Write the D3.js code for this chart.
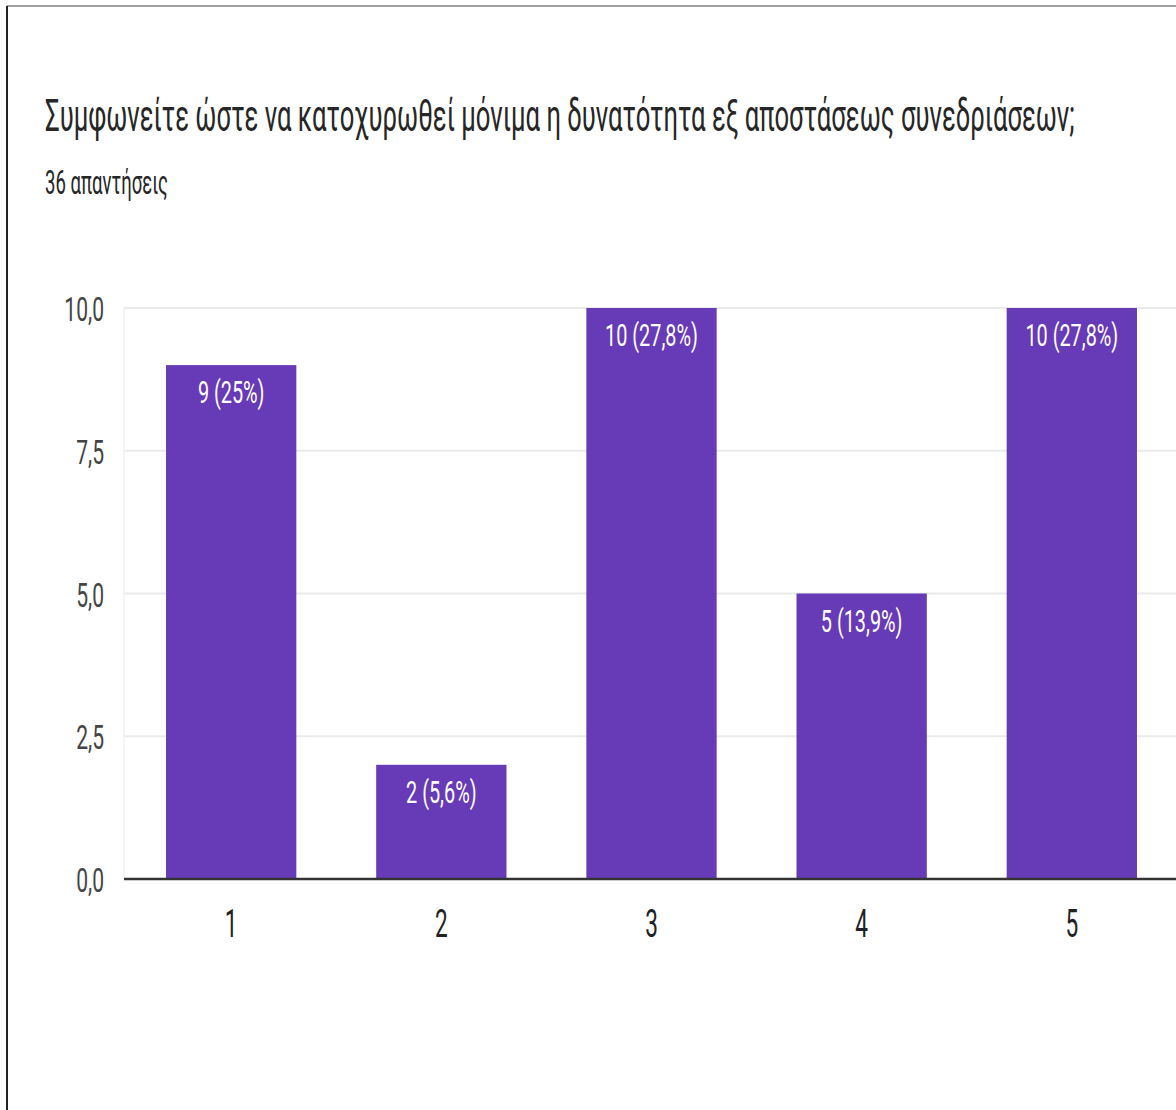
<!DOCTYPE html>
<html>
<head>
<meta charset="utf-8">
<script src="https://cdn.jsdelivr.net/npm/d3@7"></script>
<style>
  html, body { margin: 0; padding: 0; background: #fff; }
  svg { display: block; }
  text { font-family: Roboto, "Noto Sans", sans-serif; }
</style>
</head>
<body>
<svg id="chart" width="1176" height="1110"></svg>
<script>
// Survey question and response counts
const title = "Συμφωνείτε ώστε να κατοχυρωθεί μόνιμα η δυνατότητα εξ αποστάσεως συνεδριάσεων;";
const subtitle = "36 απαντήσεις";
const categories = ["1", "2", "3", "4", "5"];
const counts = [9, 2, 10, 5, 10];
const percents = ["25%", "5,6%", "27,8%", "13,9%", "27,8%"];
const yTicks = [0, 2.5, 5, 7.5, 10];

const W = 1176, H = 1110;
const sx = 0.62; // narrow lettering: horizontal squeeze applied to the labels
const margin = { top: 308, left: 124, bottom: 879 };

const svg = d3.select("#chart");

// frame lines along the top and left edges
svg.append("line").attr("x1", 7).attr("x2", W).attr("y1", 6).attr("y2", 6)
  .attr("stroke", "#444").attr("stroke-width", 1.2);
svg.append("line").attr("x1", 7).attr("x2", 7).attr("y1", 6).attr("y2", H)
  .attr("stroke", "#222").attr("stroke-width", 2);

function squeezedText(g, x, y, str, s) {
  return g.append("text")
    .attr("transform", `translate(${x},${y}) scale(${s},1)`)
    .text(str);
}

squeezedText(svg, 45, 131, title, 0.583).attr("font-size", 44).attr("fill", "#262626");
squeezedText(svg, 45, 194, subtitle, 0.545).attr("font-size", 34).attr("fill", "#262626");

const x = d3.scaleBand().domain(categories).range([margin.left, margin.left + 5 * 211])
  .paddingInner(0.38).paddingOuter(0.2);
const y = d3.scaleLinear().domain([0, 10]).range([margin.bottom, margin.top]);

// gridlines
const grid = svg.append("g");
grid.selectAll("line").data(yTicks.filter(d => d > 0)).join("line")
  .attr("x1", margin.left).attr("x2", W)
  .attr("y1", d => y(d)).attr("y2", d => y(d))
  .attr("stroke", "#ebebeb").attr("stroke-width", 2);
grid.append("line").attr("x1", margin.left).attr("x2", margin.left)
  .attr("y1", y(10)).attr("y2", y(0)).attr("stroke", "#f0f0f0").attr("stroke-width", 1.5);

// y tick labels
const fmt = d => d3.format(".1f")(d).replace(".", ",");
svg.append("g").selectAll("text").data(yTicks).join("text")
  .attr("transform", d => `translate(104,${y(d) + 13}) scale(${sx},1)`)
  .attr("text-anchor", "end").attr("font-size", 34).attr("fill", "#444")
  .text(fmt);

// bars
const data = categories.map((c, i) => ({ c, v: counts[i], p: percents[i] }));
svg.append("g").selectAll("rect").data(data).join("rect")
  .attr("x", d => x(d.c)).attr("width", x.bandwidth())
  .attr("y", d => y(d.v)).attr("height", d => y(0) - y(d.v))
  .attr("fill", "#673ab7");

// value labels inside bars
svg.append("g").selectAll("text").data(data).join("text")
  .attr("transform", d => `translate(${x(d.c) + x.bandwidth() / 2},${y(d.v) + 38}) scale(${sx},1)`)
  .attr("text-anchor", "middle").attr("font-size", 32).attr("fill", "#fff")
  .text(d => `${d.v} (${d.p})`);

// baseline
svg.append("line").attr("x1", margin.left).attr("x2", W)
  .attr("y1", y(0)).attr("y2", y(0)).attr("stroke", "#333").attr("stroke-width", 2.5);

// x tick labels
svg.append("g").selectAll("text").data(categories).join("text")
  .attr("transform", d => `translate(${x(d) + x.bandwidth() / 2},937) scale(0.58,1)`)
  .attr("text-anchor", "middle").attr("font-size", 39).attr("fill", "#222")
  .text(d => d);
</script>
</body>
</html>
